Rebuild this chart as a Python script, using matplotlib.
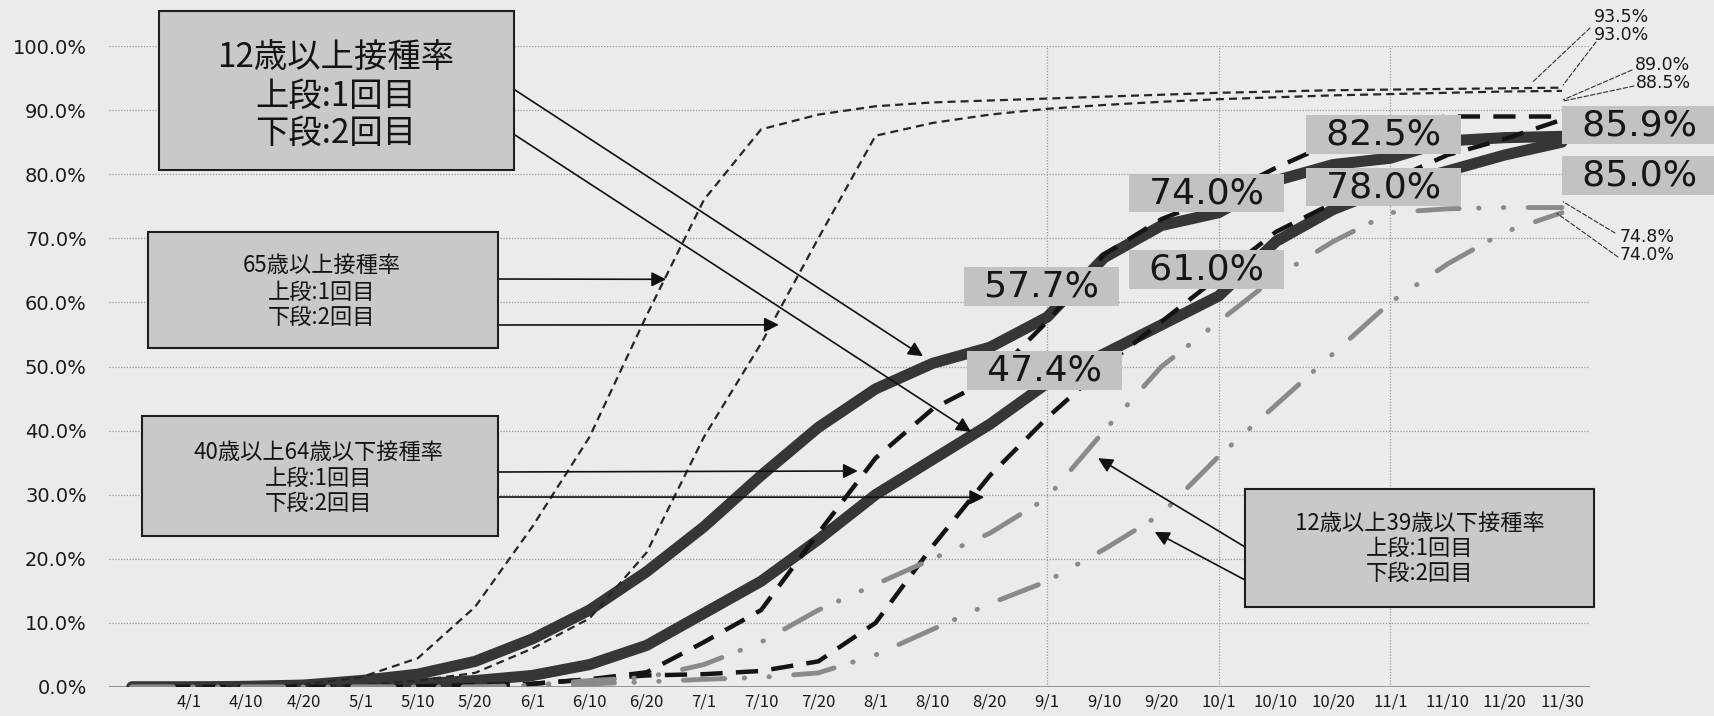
import numpy as np
import matplotlib
matplotlib.use("Agg")
import matplotlib.pyplot as plt
from matplotlib.patches import Rectangle

# category axis: first slot has no label
dates = ["", "4/1", "4/10", "4/20", "5/1", "5/10", "5/20", "6/1", "6/10", "6/20",
         "7/1", "7/10", "7/20", "8/1", "8/10", "8/20", "9/1", "9/10", "9/20",
         "10/1", "10/10", "10/20", "11/1", "11/10", "11/20", "11/30"]

# vaccination rate (%), 1st / 2nd dose
age12_1 = [0, 0, 0.1, 0.3, 1.0, 2.0, 4.0, 7.5, 12.0, 18.0, 25.0, 33.0, 40.5, 46.5,
           50.5, 53.0, 57.7, 67.0, 72.0, 74.0, 79.0, 81.5, 82.5, 85.2, 85.7, 85.9]
age12_2 = [0, 0, 0, 0.1, 0.2, 0.5, 1.0, 1.8, 3.5, 6.5, 11.5, 16.5, 23.0, 30.0,
           35.5, 41.0, 47.4, 52.0, 56.5, 61.0, 69.5, 74.5, 78.0, 80.5, 83.0, 85.0]
age65_1 = [0, 0, 0.1, 0.4, 1.5, 4.5, 12.5, 25.0, 39.0, 58.0, 76.0, 87.0, 89.3, 90.6,
           91.2, 91.5, 91.8, 92.1, 92.4, 92.7, 92.9, 93.1, 93.2, 93.3, 93.4, 93.5]
age65_2 = [0, 0, 0, 0.1, 0.3, 1.0, 2.2, 6.0, 10.7, 21.0, 39.0, 53.6, 70.0, 86.0,
           88.0, 89.3, 90.2, 90.8, 91.3, 91.7, 92.0, 92.3, 92.5, 92.7, 92.9, 93.0]
age40_1 = [0, 0, 0, 0, 0, 0.1, 0.3, 0.5, 1.2, 2.3, 7.0, 12.0, 24.0, 35.7, 43.4,
           48.0, 57.0, 67.5, 73.0, 76.5, 81.0, 85.0, 88.0, 89.0, 89.0, 89.0]
age40_2 = [0, 0, 0, 0, 0, 0, 0.2, 0.5, 1.2, 1.8, 2.0, 2.5, 4.0, 10.0, 22.0, 33.0,
           42.0, 50.0, 57.0, 64.0, 71.0, 75.5, 79.0, 83.0, 85.5, 88.5]
age12_39_1 = [0, 0, 0, 0, 0, 0, 0, 0.3, 1.0, 1.5, 3.5, 7.0, 12.0, 16.0, 20.0, 24.0,
              29.5, 40.0, 50.0, 57.0, 64.0, 69.5, 74.0, 74.6, 74.8, 74.8]
age12_39_2 = [0, 0, 0, 0, 0, 0, 0, 0, 0.5, 0.8, 1.2, 1.5, 2.2, 5.0, 9.0, 13.0,
              16.5, 21.5, 27.0, 36.0, 44.0, 52.0, 60.0, 66.0, 71.0, 74.0]

JP = ["Noto Sans CJK JP", "DejaVu Sans"]
PAPER = "#ebebeb"
W, H = 1715, 716


def px(x, y):
    """full-size pixel position -> figure fraction"""
    return x / W, 1 - y / H


fig = plt.figure(figsize=(W / 100, H / 100), dpi=100, facecolor=PAPER)
ax = fig.add_axes([109 / W, 1 - 687 / H, (1590 - 109) / W, (687 - 46) / H])
ax.set_facecolor(PAPER)
x = np.arange(len(dates))
ax.set_xlim(-0.4, 25.49)
ax.set_ylim(0, 100)
for s in ax.spines.values():
    s.set_visible(False)

# grid
for v in range(10, 101, 10):
    ax.axhline(v, color="#9a9a9a", lw=0.9, ls=(0, (1, 1.3)), zorder=1)
for d in ["9/1", "10/1", "11/1"]:
    ax.axvline(dates.index(d), color="#9a9a9a", lw=0.9, ls=(0, (1, 1.3)), zorder=1)
ax.axhline(0, color="#8c8c8c", lw=2.0, zorder=1.5)

ax.set_yticks(range(0, 101, 10))
ax.set_yticklabels([f"{v:.1f}%" for v in range(0, 101, 10)], fontsize=14,
                   family="DejaVu Sans", color="#1a1a1a")
ax.set_xticks(x)
ax.set_xticklabels(dates, fontsize=12, family=JP, color="#1a1a1a")
ax.tick_params(axis="y", length=0, pad=16)
ax.tick_params(axis="x", length=0, pad=5)

# series
ax.plot(x, age12_1, color="#363636", lw=8, solid_capstyle="round",
        solid_joinstyle="round", zorder=3)
ax.plot(x, age12_2, color="#363636", lw=8, solid_capstyle="round",
        solid_joinstyle="round", zorder=3)
for s in (age65_1, age65_2):
    ax.plot(x, s, color="#262626", lw=1.6, dashes=(3.6, 2.3), zorder=4)
for s in (age40_1, age40_2):
    ax.plot(x, s, color="#141414", lw=3.2, dashes=(5, 3), zorder=4)
for s in (age12_39_1, age12_39_2):
    ax.plot(x, s, color="#8a8a8a", lw=3.5, dashes=(8.5, 4, 0.1, 5, 0.1, 5),
            dash_capstyle="round", zorder=4)

# value labels for the 12+ series
label_pts = [("9/1", age12_1, (-4, 22)), ("9/1", age12_2, (-2, 9)),
             ("10/1", age12_1, (-9, 14)), ("10/1", age12_2, (-9, 19)),
             ("11/1", age12_1, (-5, 17)), ("11/1", age12_2, (-5, 0)),
             ("11/30", age12_1, (56, 8)), ("11/30", age12_2, (56, -24))]
for d, s, off in label_pts:
    i = dates.index(d)
    ax.annotate(f"\u2002{s[i]:.1f}%\u2002", xy=(i, s[i]), xytext=off,
                textcoords="offset points", ha="center", va="center",
                fontsize=26, family="DejaVu Sans", color="#161616",
                bbox=dict(boxstyle="square,pad=0.06", fc="#c2c2c2", ec="none"),
                zorder=6, annotation_clip=False)

# small end labels with dashed leaders
end_labels = [(age65_1, (1622, 17), (1590, 28), (24.49, 94.4)),
              (age65_2, (1622, 35), (1596, 42), (25.02, 93.9)),
              (age40_1, (1663, 65), (1632, 70), (25.02, 91.6)),
              (age40_2, (1663, 83), (1634, 86), (25.02, 91.4)),
              (age12_39_1, (1647, 237), (1615, 233), (25.02, 75.7)),
              (age12_39_2, (1647, 255), (1618, 257), (24.91, 73.9))]
for s, tpos, lstart, tip in end_labels:
    fig.text(*px(*tpos), f"{s[-1]:.1f}%", ha="center", va="center",
             fontsize=12.5, family="DejaVu Sans", color="#1a1a1a")
    ax.annotate("", xy=tip, xytext=px(*lstart), textcoords="figure fraction",
                arrowprops=dict(arrowstyle="-", color="#333333", lw=0.8,
                                ls=(0, (4, 2)), shrinkA=0, shrinkB=0),
                annotation_clip=False, zorder=5)

# legend-like callout boxes: rect (px), text lines, font size, arrows
callouts = [
    ((159, 11, 514, 170), ["12歳以上接種率", "上段:1回目", "下段:2回目"],
     (336, [57, 96, 133]), 24,
     [((515, 90), (13.83, 51.6)), ((515, 135), (14.67, 39.8))]),
    ((148, 232, 498, 348), ["65歳以上接種率", "上段:1回目", "下段:2回目"],
     (322, [265, 292, 317]), 16,
     [((498, 279), (9.34, 63.6)), ((498, 325), (11.31, 56.5))]),
    ((142, 416, 498, 536), ["40歳以上64歳以下接種率", "上段:1回目", "下段:2回目"],
     (319, [452, 478, 503]), 16,
     [((498, 472), (12.69, 33.7)), ((498, 497), (14.9, 29.6))]),
    ((1245, 489, 1594, 607), ["12歳以上39歳以下接種率", "上段:1回目", "下段:2回目"],
     (1420, [523, 548, 573]), 16,
     [((1245, 547), (16.89, 35.7)), ((1245, 580), (17.88, 24.2))]),
]
for (x0, y0, x1, y1), lines, (tx, tys), fs, arrows in callouts:
    fx0, fy1 = px(x0, y1)
    ax.add_patch(Rectangle((fx0, fy1), (x1 - x0) / W, (y1 - y0) / H,
                           transform=fig.transFigure, fc="#c9c9c9", ec="#1e1e1e",
                           lw=1.5, clip_on=False, zorder=8))
    for line, ty in zip(lines, tys):
        ax.text(*px(tx, ty), line, transform=fig.transFigure, ha="center",
                va="center", fontsize=fs, family=JP, color="#141414", zorder=9)
    for start, tip in arrows:
        ax.annotate("", xy=tip, xytext=px(*start), textcoords="figure fraction",
                    arrowprops=dict(arrowstyle="-|>", color="#111111", lw=1.2,
                                    mutation_scale=22, shrinkA=0, shrinkB=0),
                    annotation_clip=False, zorder=7)

fig.savefig("out.png", dpi=100, facecolor=PAPER)
